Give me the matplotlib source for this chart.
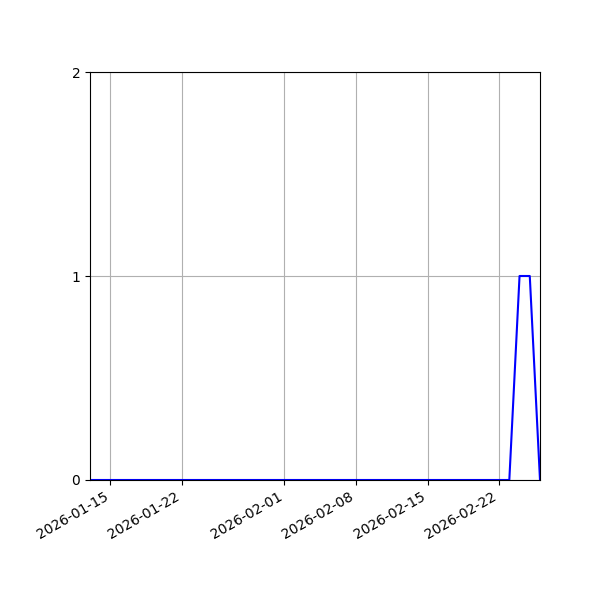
#!/usr/bin/env python3
import datetime

import matplotlib
matplotlib.use('Agg')
import matplotlib.pyplot as plt

START_DATE = datetime.date(2026, 1, 13)
# one count per day, 2026-01-13 .. 2026-02-26
COUNTS = [
    0, 0, 0, 0, 0, 0, 0, 0, 0, 0,
    0, 0, 0, 0, 0, 0, 0, 0, 0, 0,
    0, 0, 0, 0, 0, 0, 0, 0, 0, 0,
    0, 0, 0, 0, 0, 0, 0, 0, 0, 0,
    0, 0, 1, 1, 0,
]
Y_TICKS = [0, 1, 2]


def main():
    dates = [START_DATE + datetime.timedelta(days=i) for i in range(len(COUNTS))]

    fig, ax = plt.subplots(figsize=(6, 6), dpi=100)
    ax.plot(dates, COUNTS, color='b')
    ax.set_xlim(dates[0], dates[-1])
    ax.set_ylim(Y_TICKS[0], Y_TICKS[-1])
    ax.set_yticks(Y_TICKS)
    ax.grid(True)
    fig.autofmt_xdate()
    fig.subplots_adjust(left=0.15)

    fig.savefig('out.png')


if __name__ == '__main__':
    main()
